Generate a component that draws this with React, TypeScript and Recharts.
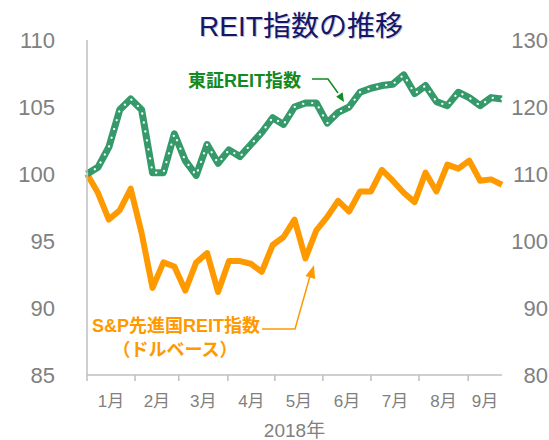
import { Line, LineChart, XAxis, YAxis } from 'recharts';

// weekly points, 2018-01 .. 2018-09 (index = week number)
const WEEKS = Array.from({ length: 39 }, (_, i) => i);

const TSE_REIT = [
  100.0, 100.5, 102.0, 104.8, 105.6, 104.8, 100.1, 100.1, 103.0, 101.0,
  99.9, 102.2, 100.8, 101.8, 101.3, 102.2, 103.1, 104.2, 103.7, 105.0,
  105.3, 105.3, 103.8, 104.6, 105.0, 106.1, 106.4, 106.6, 106.7, 107.4,
  106.0, 106.6, 105.4, 105.1, 106.1, 105.7, 105.1, 105.7, 105.6,
];

const SP_REIT = [
  100.0, 98.6, 96.6, 97.3, 98.9, 95.6, 91.5, 93.4, 93.1, 91.3,
  93.4, 94.1, 91.2, 93.5, 93.5, 93.3, 92.7, 94.7, 95.3, 96.6,
  93.7, 95.8, 96.8, 98.0, 97.2, 98.7, 98.7, 100.3, 99.5, 98.6,
  97.9, 100.1, 98.7, 100.7, 100.4, 101.0, 99.5, 99.6, 99.2,
];

const MONTH_LABELS = ['1月', '2月', '3月', '4月', '5月', '6月', '7月', '8月', '9月'];
const MONTH_BOUNDS = [0, 4.4, 8.4, 12.9, 17.2, 21.6, 26.0, 30.4, 34.9];
const MONTH_MIDS = [2.2, 6.4, 10.65, 15.05, 19.4, 23.8, 28.2, 32.65, 36.45];

const LEFT_TICKS = [85, 90, 95, 100, 105, 110];
const RIGHT_TICKS = [80, 90, 100, 110, 120, 130];

const data = WEEKS.map((w, i) => ({ week: w, tse: TSE_REIT[i], sp: SP_REIT[i] }));

const FONT = "'Liberation Sans', 'Noto Sans CJK JP', sans-serif";
const GREEN = '#359a6a';
const ORANGE = '#FF9900';
const AXIS = '#bfbfbf';
const LABEL = '#808080';

export default function App() {
  return (
    <div style={{ position: 'absolute', left: 0, top: 0, width: 549, height: 440, fontFamily: FONT, background: '#fff' }}>
      <LineChart width={549} height={440} data={data} margin={{ top: 40, right: 0, bottom: 0, left: 0 }}>
        <XAxis
          xAxisId="grid"
          dataKey="week"
          type="number"
          domain={[0, 38]}
          ticks={MONTH_BOUNDS}
          tickFormatter={() => ''}
          height={1}
          axisLine={{ stroke: AXIS, strokeWidth: 1.5 }}
          tickLine={{ stroke: AXIS, strokeWidth: 1.5 }}
          tickSize={6}
        />
        <XAxis
          xAxisId="month"
          dataKey="week"
          type="number"
          domain={[0, 38]}
          ticks={MONTH_MIDS}
          tickFormatter={(_v: number, i: number) => MONTH_LABELS[i]}
          height={64}
          axisLine={false}
          tickLine={false}
          tickSize={0}
          tickMargin={19}
          interval={0}
          tick={{ fill: LABEL, fontSize: 17, fontFamily: FONT }}
          label={{ value: '2018年', position: 'insideBottom', offset: 3, fill: LABEL, fontSize: 19, fontFamily: FONT }}
        />
        <YAxis
          yAxisId="left"
          domain={[85, 110]}
          ticks={LEFT_TICKS}
          width={87}
          axisLine={{ stroke: AXIS, strokeWidth: 1.5 }}
          tickLine={false}
          tick={{ fill: LABEL, fontSize: 22, fontFamily: FONT, dx: -24 }}
        />
        <YAxis
          yAxisId="right"
          orientation="right"
          domain={[80, 130]}
          ticks={RIGHT_TICKS}
          width={47}
          axisLine={false}
          tickLine={false}
          tick={{ fill: LABEL, fontSize: 22, fontFamily: FONT, textAnchor: 'end', dx: 38 }}
        />
        {/* invisible series so the right-hand scale gets drawn */}
        <Line
          xAxisId="grid"
          yAxisId="right"
          dataKey="sp"
          stroke="none"
          dot={false}
          activeDot={false}
          isAnimationActive={false}
        />
        <Line
          xAxisId="grid"
          yAxisId="left"
          dataKey="sp"
          stroke={ORANGE}
          strokeWidth={6}
          strokeLinejoin="round"
          dot={false}
          isAnimationActive={false}
        />
        <Line
          xAxisId="grid"
          yAxisId="left"
          dataKey="tse"
          stroke={GREEN}
          strokeWidth={7}
          strokeLinejoin="round"
          dot={false}
          isAnimationActive={false}
        />
        <Line
          xAxisId="grid"
          yAxisId="left"
          dataKey="tse"
          stroke="#ffffff"
          strokeWidth={2.2}
          strokeDasharray="0.1 9"
          strokeLinecap="round"
          dot={false}
          isAnimationActive={false}
        />
      </LineChart>

      <svg width={549} height={440} style={{ position: 'absolute', left: 0, top: 0, pointerEvents: 'none' }}>
        <text x={302} y={27} textAnchor="middle" dominantBaseline="central" fontSize={28} fill="#c8c8d0" fontFamily={FONT}>
          REIT指数の推移
        </text>
        <text x={301} y={26} textAnchor="middle" dominantBaseline="central" fontSize={28} fill="#15166b" fontFamily={FONT}>
          REIT指数の推移
        </text>

        <text x={188} y={81} dominantBaseline="central" fontSize={18} fontWeight="bold" fill="#118a22" fontFamily={FONT}>
          東証REIT指数
        </text>
        <polyline points="312,79 328,79 338,93" fill="none" stroke="#118a22" strokeWidth={1.5} />
        <polygon points="344,102 342.6,92.2 336.2,96.8" fill="#118a22" />

        <text x={176} y={326} textAnchor="middle" dominantBaseline="central" fontSize={18} fontWeight="bold" fill={ORANGE} fontFamily={FONT}>
          S&amp;P先進国REIT指数
        </text>
        <text x={175} y={350} textAnchor="middle" dominantBaseline="central" fontSize={18} fontWeight="bold" fill={ORANGE} fontFamily={FONT}>
          （ドルベース）
        </text>
        <polyline points="262,329 295,329 310,276" fill="none" stroke={ORANGE} strokeWidth={1.5} />
        <polygon points="314,265 315.1,279 305.5,276.1" fill={ORANGE} />
      </svg>
    </div>
  );
}
